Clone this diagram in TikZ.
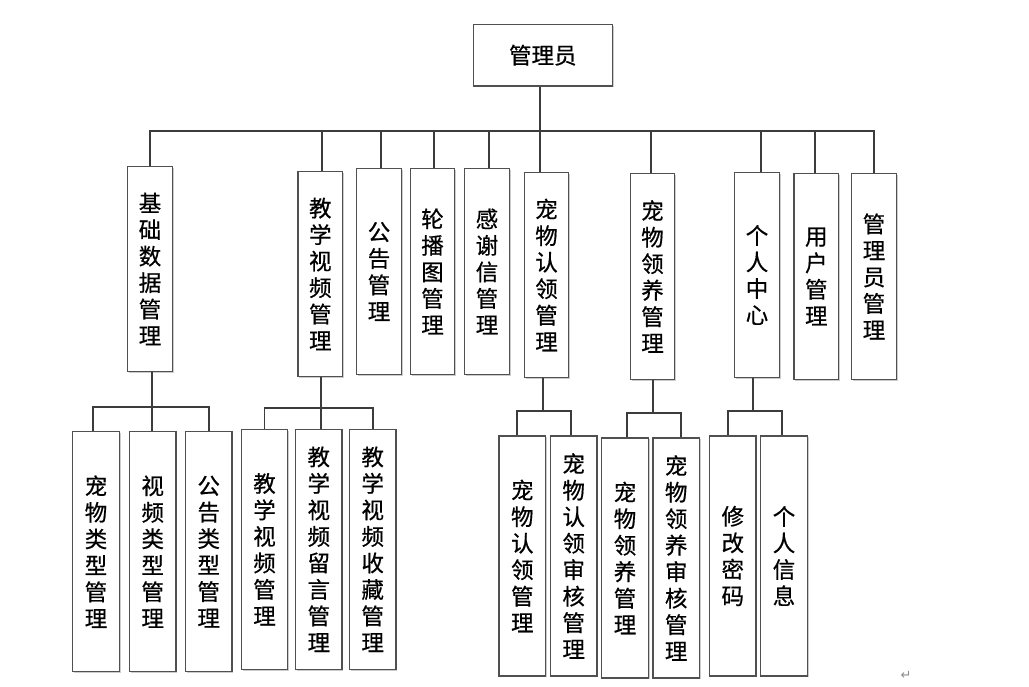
\documentclass[tikz,border=0pt]{standalone}
\usepackage{fontspec}
\newfontfamily\cjk[FakeBold=0.6]{Noto Sans CJK SC}
\newfontfamily\djv{DejaVu Sans}
\usetikzlibrary{shadows}
\definecolor{linec}{RGB}{60,60,60}
\definecolor{boxc}{RGB}{80,80,80}
\begin{document}
\begin{tikzpicture}[x=1pt,y=-1pt,
  conn/.style={draw=linec,line width=1.8pt},
  box/.style={draw=boxc,line width=1.2pt,fill=white,inner sep=0pt,align=center,
    font=\cjk\fontsize{22.5}{26.5}\selectfont,
    drop shadow={shadow xshift=1.4pt,shadow yshift=-1.4pt,fill=black,opacity=0.2}},
  boxa/.style={box,minimum width=44.6pt,minimum height=205.5pt},
  boxb/.style={box,minimum width=46.5pt,minimum height=240pt}]
\useasboundingbox (0,0) rectangle (1029,687);
% top
\node[box,minimum width=139pt,minimum height=61.7pt] (adm) at (542.8,55.2) {管理员};
% level 1
\node[boxa] (jc) at (150,269) {基\\础\\数\\据\\管\\理};
\node[boxa] (jx) at (320.3,274) {教\\学\\视\\频\\管\\理};
\node[boxa] (gg) at (379,271.5) {公\\告\\管\\理};
\node[boxa] (lb) at (432.5,271.5) {轮\\播\\图\\管\\理};
\node[boxa] (gx) at (487,271.5) {感\\谢\\信\\管\\理};
\node[boxa] (rl) at (546.5,275) {宠\\物\\认\\领\\管\\理};
\node[boxa] (ly) at (652.5,276.5) {宠\\物\\领\\养\\管\\理};
\node[boxa] (gr) at (757,275) {个\\人\\中\\心};
\node[boxa] (yh) at (816.3,276.5) {用\\户\\管\\理};
\node[boxa] (gl) at (874,276.5) {管\\理\\员\\管\\理};
% level 2
\node[boxb] (a1) at (96,551.7) {宠\\物\\类\\型\\管\\理};
\node[boxb] (a2) at (152.7,551.7) {视\\频\\类\\型\\管\\理};
\node[boxb] (a3) at (208.7,551.7) {公\\告\\类\\型\\管\\理};
\node[boxb] (b1) at (264.5,549.3) {教\\学\\视\\频\\管\\理};
\node[boxb] (b2) at (318.8,549.3) {教\\学\\视\\频\\留\\言\\管\\理};
\node[boxb] (b3) at (372.7,549.3) {教\\学\\视\\频\\收\\藏\\管\\理};
\node[boxb] (c1) at (522.3,556) {宠\\物\\认\\领\\管\\理};
\node[boxb] (c2) at (573.7,556) {宠\\物\\认\\领\\审\\核\\管\\理};
\node[boxb] (d1) at (625,558) {宠\\物\\领\\养\\管\\理};
\node[boxb] (d2) at (676.2,558) {宠\\物\\领\\养\\审\\核\\管\\理};
\node[boxb] (e1) at (732.8,556) {修\\改\\密\\码};
\node[boxb] (e2) at (784,556) {个\\人\\信\\息};
% bus levels
\coordinate (ytop) at (0,131);
\coordinate (ya) at (0,407.3);
\coordinate (yb) at (0,408.3);
\coordinate (yc) at (0,411);
\coordinate (yd) at (0,412.7);
\coordinate (ye) at (0,410.7);
% drop points
\coordinate (admb) at ([xshift=-2.8pt]adm.south);
\coordinate (jxt) at ([xshift=1.7pt]jx.north);
\coordinate (ggt) at ([xshift=1.7pt]gg.north);
\coordinate (lbt) at ([xshift=1.5pt]lb.north);
\coordinate (gxt) at ([xshift=2pt]gx.north);
\coordinate (rlt) at ([xshift=-6.5pt]rl.north);
\coordinate (lyt) at ([xshift=-1.5pt]ly.north);
\coordinate (grt) at ([xshift=3.7pt]gr.north);
\coordinate (yht) at ([xshift=-1.3pt]yh.north);
% top connectors
\draw[conn] (admb) -- (admb |- ytop);
\draw[conn] (jc.north) |- (ytop -| gl.north) -- (gl.north);
\draw[conn] (jxt) -- (jxt |- ytop);
\draw[conn] (ggt) -- (ggt |- ytop);
\draw[conn] (lbt) -- (lbt |- ytop);
\draw[conn] (gxt) -- (gxt |- ytop);
\draw[conn] (rlt) -- (rlt |- ytop);
\draw[conn] (lyt) -- (lyt |- ytop);
\draw[conn] (grt) -- (grt |- ytop);
\draw[conn] (yht) -- (yht |- ytop);
% group jc
\coordinate (jcb) at ([xshift=1.7pt]jc.south);
\coordinate (a1t) at ([xshift=-3pt]a1.north);
\draw[conn] (a1t) |- (ya -| a3.north) -- (a3.north);
\draw[conn] (jcb) -- (jcb |- a2.north);
% group jx
\coordinate (jxb) at ([xshift=0.4pt]jx.south);
\draw[conn] (b1.north) |- (yb -| b3.north) -- (b3.north);
\draw[conn] (jxb) -- (jxb |- b2.north);
% group rl
\coordinate (rlb) at ([xshift=-3.8pt]rl.south);
\coordinate (c1t) at ([xshift=-5.6pt]c1.north);
\coordinate (c2t) at ([xshift=-3pt]c2.north);
\draw[conn] (rlb) -- (rlb |- yc);
\draw[conn] (c1t) |- (c2t |- yc) -- (c2t);
% group ly
\coordinate (lyb) at ([xshift=0.8pt]ly.south);
\coordinate (d1t) at ([xshift=1.7pt]d1.north);
\coordinate (d2t) at ([xshift=5.1pt]d2.north);
\draw[conn] (lyb) -- (lyb |- yd);
\draw[conn] (d1t) |- (d2t |- yd) -- (d2t);
% group gr
\coordinate (grb) at ([xshift=-3.7pt]gr.south);
\coordinate (e1t) at ([xshift=-5.1pt]e1.north);
\coordinate (e2t) at ([xshift=-2pt]e2.north);
\draw[conn] (grb) -- (grb |- ye);
\draw[conn] (e1t) |- (e2t |- ye) -- (e2t);
% paragraph mark
\node[font=\djv\fontsize{13}{13}\selectfont,text=black!45,inner sep=0pt] (pm) at (906,675) {↵};
\end{tikzpicture}
\end{document}
